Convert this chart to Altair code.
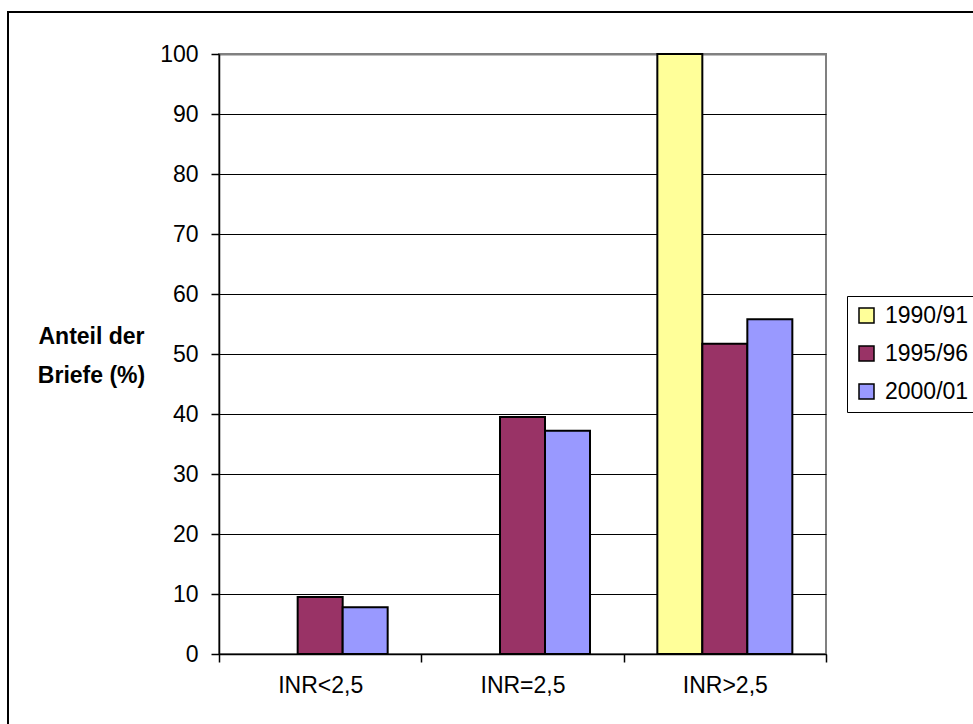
import altair as alt
import pandas as pd

# INR share of letters per survey period
categories = ["INR<2,5", "INR=2,5", "INR>2,5"]
series = ["1990/91", "1995/96", "2000/01"]
colors = ["#FFFF99", "#993366", "#9999FF"]

share_1990 = [None, None, 100]
share_1995 = [9.5, 39.5, 51.7]
share_2000 = [7.8, 37.2, 55.8]

rows = []
for name, vals in zip(series, [share_1990, share_1995, share_2000]):
    for cat, v in zip(categories, vals):
        if v is not None:
            rows.append({"kategorie": cat, "zeitraum": name, "anteil": v})
df = pd.DataFrame(rows)

FONT = "Liberation Sans"

bars = alt.Chart(df).mark_bar(stroke="black", strokeWidth=2).encode(
    x=alt.X(
        "kategorie:N",
        sort=categories,
        scale=alt.Scale(paddingInner=0, paddingOuter=0),
        axis=alt.Axis(
            title=None,
            labelAngle=0,
            tickBand="extent",
            tickSize=8,
            tickColor="black",
            tickWidth=1.5,
            domainColor="black",
            domainWidth=1.5,
            labelPadding=12,
            labelFontSize=23,
            labelFont=FONT,
            labelColor="black",
        ),
    ),
    xOffset=alt.XOffset(
        "zeitraum:N",
        sort=series,
        scale=alt.Scale(domain=series, paddingInner=0, paddingOuter=0.748),
    ),
    y=alt.Y(
        "anteil:Q",
        scale=alt.Scale(domain=[0, 100], nice=False),
        axis=alt.Axis(
            values=list(range(0, 101, 10)),
            title=["Anteil der", "Briefe (%)"],
            titleAngle=0,
            titleX=-128,
            titleY=282,
            titleAlign="center",
            titleBaseline="middle",
            titleFontWeight="bold",
            titleFontSize=23,
            titleFont=FONT,
            titleColor="black",
            titleLineHeight=39,
            tickSize=8,
            tickColor="black",
            tickWidth=1.5,
            domainColor="black",
            domainWidth=1.5,
            labelPadding=13,
            labelFontSize=23,
            labelFont=FONT,
            labelColor="black",
            grid=True,
            gridColor=alt.condition("datum.value == 100", alt.value("#808080"), alt.value("black")),
            gridWidth=alt.condition("datum.value == 100", alt.value(2), alt.value(1)),
        ),
    ),
    color=alt.Color(
        "zeitraum:N",
        sort=series,
        scale=alt.Scale(domain=series, range=colors),
        legend=alt.Legend(
            title=None,
            orient="none",
            legendX=628,
            legendY=242,
            strokeColor="black",
            fillColor="white",
            padding=8,
            symbolType="square",
            symbolSize=225,
            symbolStrokeColor="black",
            symbolStrokeWidth=1.5,
            symbolOpacity=1,
            labelFontSize=23,
            labelFont=FONT,
            labelColor="black",
            labelOffset=7,
            rowPadding=14,
        ),
    ),
)

# outer frame of the chart area
frame = alt.Chart(pd.DataFrame({"k": [0]})).mark_rect(
    filled=False, stroke="black", strokeWidth=2
).encode(
    x=alt.value(-211), x2=alt.value(790), y=alt.value(-42), y2=alt.value(700)
)

chart = alt.layer(frame, bars).properties(
    width=607,
    height=600,
    autosize=alt.AutoSizeParams(type="none"),
    padding={"left": 219, "top": 54, "right": 147, "bottom": 70},
    background="white",
).configure_view(stroke="#808080", strokeWidth=2)

chart.save("out.html", embed_options={"renderer": "svg", "actions": False})
